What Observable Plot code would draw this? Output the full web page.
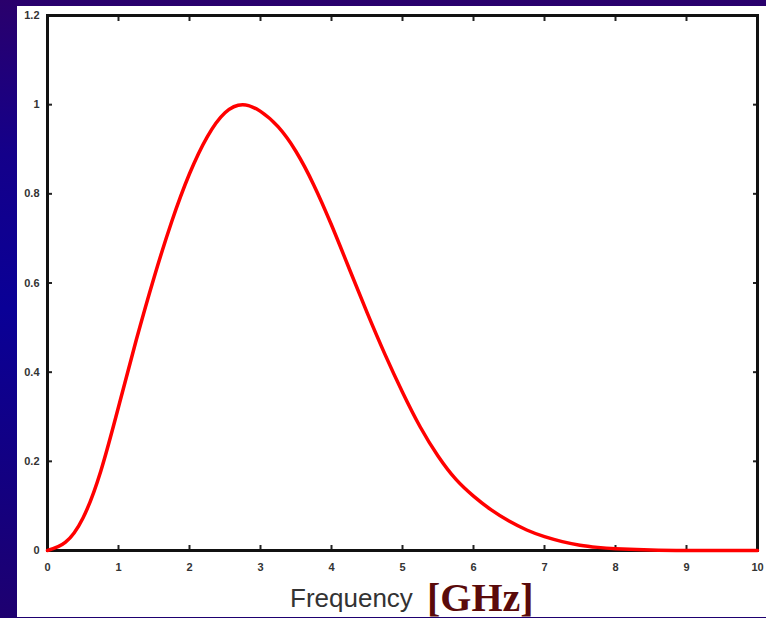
<!DOCTYPE html>
<html>
<head>
<meta charset="utf-8">
<script src="https://cdn.jsdelivr.net/npm/d3@7"></script>
<script src="https://cdn.jsdelivr.net/npm/@observablehq/plot@0.6"></script>
<style>
  html, body { margin: 0; padding: 0; }
  body {
    width: 766px; height: 618px; overflow: hidden; position: relative;
    background: linear-gradient(180deg, #2a006c 0%, #14008a 25%, #0a0096 50%, #14007f 80%, #1e0070 100%);
  }
  #panel { position: absolute; left: 17px; top: 6px; width: 749px; height: 611px; background: #fff; overflow: hidden; }
  #chart { position: absolute; left: 0; top: 0; }
  .xl1 { position: absolute; left: 273px; top: 579px; font: 26px "Liberation Sans", Arial, sans-serif; line-height: 26px; color: #333; white-space: nowrap; }
  .xl2 { position: absolute; left: 410px; top: 572px; font: bold 40px "Liberation Serif", "Times New Roman", serif; line-height: 40px; color: #5a0a0a; white-space: nowrap; }
</style>
</head>
<body>
<div id="panel"><div id="chart"></div>
  <div class="xl1">Frequency</div>
  <div class="xl2">[GHz]</div>
</div>
<script>
// Data
const freq = [0, 0.25, 0.5, 0.75, 1.0, 1.25, 1.5, 1.75, 2.0, 2.25, 2.5, 2.75, 3.0, 3.25, 3.5, 3.75, 4.0, 4.25, 4.5, 4.75, 5.0, 5.25, 5.5, 5.75, 6.0, 6.25, 6.5, 6.75, 7.0, 7.25, 7.5, 7.75, 8.0, 8.5, 9.0, 10.0];
const amplitude = [0, 0.018, 0.073, 0.178, 0.322, 0.472, 0.612, 0.738, 0.845, 0.928, 0.982, 1.0, 0.985, 0.95, 0.895, 0.82, 0.73, 0.632, 0.534, 0.441, 0.355, 0.277, 0.212, 0.16, 0.122, 0.091, 0.066, 0.046, 0.031, 0.02, 0.012, 0.007, 0.004, 0.001, 0, 0];
const xTicks = [0, 1, 2, 3, 4, 5, 6, 7, 8, 9, 10];
const yTicks = [0, 0.2, 0.4, 0.6, 0.8, 1.0, 1.2];
const yTickLabels = ["0", "0.2", "0.4", "0.6", "0.8", "1", "1.2"];

const rows = freq.map((f, i) => ({f, a: amplitude[i]}));
const yLabel = new Map(yTicks.map((t, i) => [t, yTickLabels[i]]));

const chart = Plot.plot({
  width: 749,
  height: 575,
  marginLeft: 30,
  marginRight: 9,
  marginTop: 9,
  marginBottom: 31,
  style: { background: "transparent", fontFamily: "'Liberation Sans', Arial, sans-serif", fontSize: "11px", color: "#222" },
  x: { domain: [0, 10] },
  y: { domain: [0, 1.2] },
  marks: [
    Plot.axisX(xTicks, { anchor: "bottom", tickSize: -5, text: null, label: null, strokeWidth: 2 }),
    Plot.axisX(xTicks, { anchor: "top", tickSize: -5, text: null, label: null, strokeWidth: 2 }),
    Plot.axisY(yTicks, { anchor: "left", tickSize: -5, text: null, label: null, strokeWidth: 2 }),
    Plot.axisY(yTicks, { anchor: "right", tickSize: -5, text: null, label: null, strokeWidth: 2 }),
    Plot.axisX(xTicks, { anchor: "bottom", tickSize: 0, tickPadding: 13, label: null, fontWeight: "bold", fill: "#333" }),
    Plot.axisY(yTicks, { anchor: "left", tickSize: 0, tickPadding: 8, label: null, tickFormat: d => yLabel.get(d), fontWeight: "bold", fill: "#333" }),
    Plot.frame({ stroke: "#111", strokeWidth: 3 }),
    Plot.line(rows, { x: "f", y: "a", stroke: "#ff0000", strokeWidth: 3.5, curve: "natural" })
  ]
});
document.getElementById("chart").appendChild(chart);
</script>
</body>
</html>
